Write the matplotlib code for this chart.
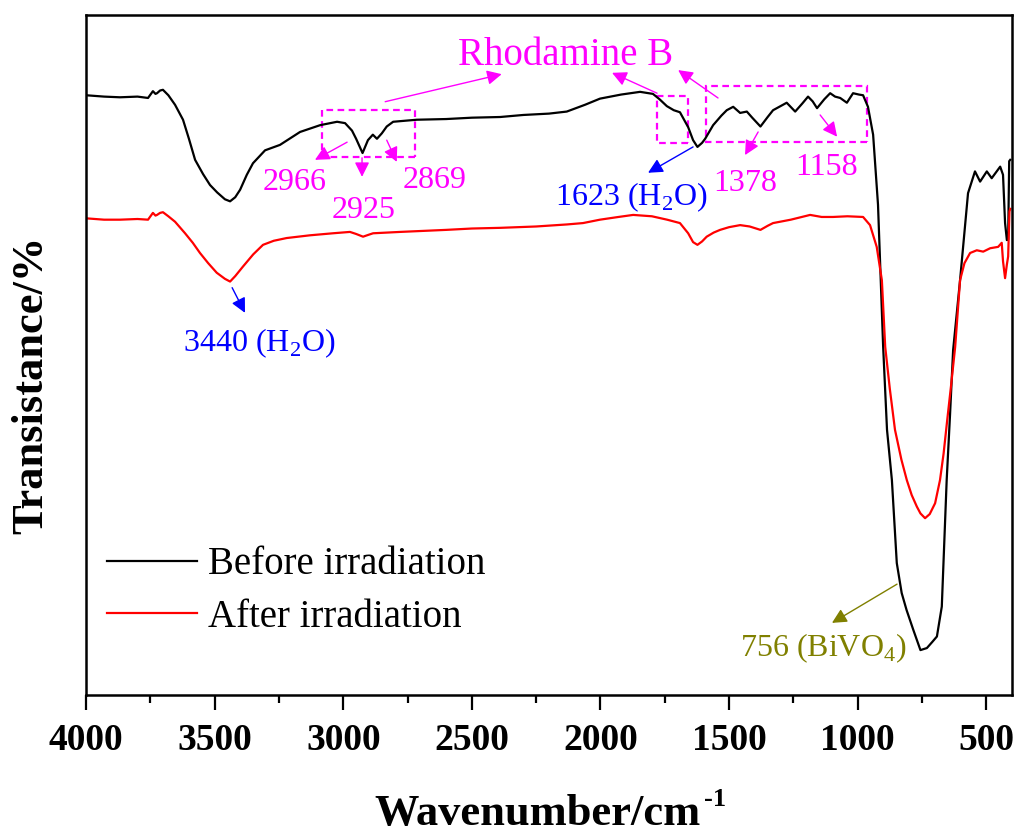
import matplotlib
matplotlib.use('Agg')
import matplotlib.pyplot as plt
from matplotlib.patches import Rectangle

plt.rcParams['font.family'] = ['Liberation Serif', 'DejaVu Serif']
plt.rcParams['mathtext.fontset'] = 'custom'
plt.rcParams['mathtext.rm'] = 'Liberation Serif'
plt.rcParams['mathtext.bf'] = 'Liberation Serif:bold'

# FTIR spectra (wavenumber in cm^-1, transmittance in arbitrary %)
before_wn = [4000, 3930, 3868, 3800, 3759, 3740, 3730, 3724, 3712, 3701, 3680, 3654,
             3623, 3600, 3576, 3545, 3518, 3490, 3460, 3440, 3420, 3401, 3375, 3351,
             3304, 3246, 3168, 3090, 3024, 2993, 2966, 2950, 2925, 2904, 2885, 2869,
             2850, 2831, 2806, 2714, 2600, 2500, 2390, 2300, 2200, 2131, 2060, 2002,
             1920, 1846, 1796, 1770, 1742, 1715, 1691, 1659, 1640, 1623, 1605, 1593,
             1562, 1530, 1509, 1484, 1457, 1431, 1410, 1378, 1350, 1329, 1300, 1276,
             1243, 1215, 1193, 1175, 1158, 1130, 1107, 1088, 1068, 1042, 1018, 995,
             979, 960, 940, 921, 901, 886, 867, 848, 829, 810, 784, 756, 731, 710,
             692, 673, 654, 641, 629, 602, 571, 544, 524, 498, 479, 446, 435, 427,
             420, 415, 411, 407]
before_t = [88.2, 88.0, 87.9, 88.0, 87.8, 88.8, 88.4, 88.5, 88.9, 89.0, 88.2, 86.8,
            84.6, 81.8, 78.7, 76.6, 75.0, 73.9, 72.9, 72.6, 73.2, 74.3, 76.5, 78.2,
            80.1, 80.9, 82.8, 83.8, 84.3, 84.1, 83.0, 81.8, 79.7, 81.6, 82.4, 81.8,
            82.6, 83.6, 84.3, 84.6, 84.7, 84.9, 85.0, 85.3, 85.5, 85.8, 86.8, 87.7,
            88.3, 88.7, 88.4, 87.6, 86.6, 86.0, 85.7, 83.5, 81.6, 80.6, 81.2, 81.8,
            83.8, 85.2, 86.0, 86.5, 85.6, 85.8, 84.9, 83.6, 85.0, 86.0, 86.6, 87.1,
            85.8, 87.0, 88.0, 87.3, 86.3, 87.6, 88.5, 88.0, 87.8, 87.1, 88.5, 88.3,
            88.2, 86.5, 82.4, 72.1, 51.2, 39.0, 31.6, 19.4, 15.0, 12.5, 9.6, 6.6, 6.9, 7.8,
            8.6, 13.0, 31.6, 41.2, 50.7, 61.0, 73.8, 77.0, 75.5, 77.0, 76.0, 77.7, 76.5, 69.4,
            66.9, 67.0, 78.5, 78.7]

after_wn = [4000, 3930, 3868, 3800, 3759, 3740, 3730, 3724, 3712, 3701, 3680, 3654,
            3615, 3585, 3557, 3525, 3492, 3460, 3440, 3420, 3390, 3350, 3312, 3270,
            3220, 3130, 3040, 2974, 2950, 2923, 2900, 2884, 2779, 2600, 2500, 2390,
            2250, 2130, 2068, 2002, 1930, 1873, 1800, 1741, 1691, 1659, 1640, 1623,
            1605, 1587, 1560, 1535, 1500, 1457, 1420, 1378, 1350, 1329, 1260, 1185,
            1140, 1096, 1040, 979, 952, 926, 906, 893, 875, 855, 830, 809, 790, 770,
            756, 738, 720, 699, 680, 666, 652, 637, 621, 602, 585, 563, 537, 512,
            485, 454, 440, 435, 427, 420, 415, 410, 407]
after_t = [70.1, 69.9, 69.9, 70.0, 69.9, 70.9, 70.5, 70.6, 70.9, 71.0, 70.4, 69.6,
           67.9, 66.5, 65.0, 63.5, 62.1, 61.2, 60.8, 61.6, 63.0, 64.8, 66.2, 66.8,
           67.2, 67.6, 67.9, 68.1, 67.8, 67.4, 67.7, 67.9, 68.1, 68.4, 68.6, 68.7,
           68.9, 69.2, 69.4, 69.9, 70.3, 70.6, 70.4, 69.9, 69.4, 67.9, 66.6, 66.2,
           66.7, 67.4, 68.0, 68.4, 68.8, 69.1, 68.9, 68.4, 69.0, 69.4, 69.9, 70.6,
           70.3, 70.3, 70.4, 70.3, 69.1, 65.9, 61.0, 51.2, 45.0, 39.0, 34.6, 31.6, 29.4, 27.7,
           26.7, 26.0, 26.6, 28.2, 31.6, 35.5, 40.4, 45.5, 51.2, 61.0, 63.5, 65.0, 65.4, 65.2,
           65.7, 65.9, 66.5, 63.8, 61.3, 63.3, 64.5, 71.1, 71.5]

series_labels = ['Before irradiation', 'After irradiation']
series_colors = ['black', 'red']
xticks = [4000, 3500, 3000, 2500, 2000, 1500, 1000, 500]

MAGENTA = '#FF00FF'
BLUE = '#0000FF'
OLIVE = '#808000'

fig = plt.figure(figsize=(10.17, 8.34), dpi=100)
ax = fig.add_axes([0.0846, 0.1667, 0.9105, 0.8153])

ax.plot(before_wn, before_t, color=series_colors[0], lw=1.6, label=series_labels[0])
ax.plot(after_wn, after_t, color=series_colors[1], lw=1.6, label=series_labels[1])

ax.set_xlim(4000, 400)
ax.set_ylim(0, 100)
ax.set_xticks(xticks)
ax.set_xticks(range(3750, 400, -500), minor=True)
ax.set_yticks([])
ax.tick_params(axis='x', which='major', direction='out', length=11, width=1.6,
               pad=9, labelsize=27)
ax.tick_params(axis='x', which='minor', direction='out', length=6, width=1.6)
for lab in ax.get_xticklabels():
    lab.set_fontweight('bold')
for sp in ax.spines.values():
    sp.set_linewidth(1.8)

# axis titles; the cm^-1 exponent is a separate small bold text
ax.set_xlabel('Wavenumber/cm', fontsize=32, fontweight='bold')
ax.xaxis.set_label_coords(0.488, -0.145)
ax.text(0.667, -0.163, '-1', transform=ax.transAxes, fontsize=19,
        fontweight='bold', ha='left', va='baseline')
ax.set_ylabel('Transistance/%', fontsize=32, fontweight='bold')
ax.yaxis.set_label_coords(-0.037, 0.456)

ax.legend(loc='center left', bbox_to_anchor=(0.0227, 0.153), frameon=False,
          fontsize=28, handlelength=2.3, handletextpad=0.3, labelspacing=0.4,
          borderpad=0, borderaxespad=0)

# dashed boxes around the Rhodamine B bands
dash = dict(fill=False, edgecolor=MAGENTA, lw=1.6, linestyle=(0, (3, 2)))
ax.add_patch(Rectangle((2721, 79.1), 363, 6.9, **dash))
ax.add_patch(Rectangle((1659, 81.2), 121, 6.9, **dash))
ax.add_patch(Rectangle((964, 81.3), 625, 8.2, **dash))

def arrow(tail, head, color):
    ax.annotate('', xy=head, xytext=tail,
                arrowprops=dict(arrowstyle='-|>', color=color, lw=1.0,
                                mutation_scale=22, shrinkA=0, shrinkB=0))

ax.text(2554, 92.6, 'Rhodamine B', color=MAGENTA, fontsize=28, ha='left', va='baseline')
arrow((2837, 87.25), (2384, 91.3), MAGENTA)
arrow((1780, 88.5), (1955, 91.5), MAGENTA)
arrow((1543, 87.8), (1698, 91.9), MAGENTA)

arrow((2985, 81.3), (3110, 78.7), MAGENTA)
arrow((2927, 79.0), (2927, 76.2), MAGENTA)
arrow((2831, 81.6), (2792, 78.4), MAGENTA)
arrow((1387, 82.8), (1438, 79.4), MAGENTA)
arrow((1146, 85.3), (1080, 82.1), MAGENTA)
arrow((1640, 80.6), (1815, 76.8), BLUE)
arrow((3432, 59.9), (3382, 56.2), BLUE)
arrow((847, 16.3), (1100, 10.6), OLIVE)

num_fs = 23
ax.text(3312, 74.3, '2966', color=MAGENTA, fontsize=num_fs, va='baseline')
ax.text(3044, 70.1, '2925', color=MAGENTA, fontsize=num_fs, va='baseline')
ax.text(2768, 74.6, '2869', color=MAGENTA, fontsize=num_fs, va='baseline')
ax.text(1562, 74.1, '1378', color=MAGENTA, fontsize=num_fs, va='baseline')
ax.text(1243, 76.5, '1158', color=MAGENTA, fontsize=num_fs, va='baseline')
ax.text(2177, 72.1, r'1623 (H$_\mathregular{2}$O)', color=BLUE, fontsize=num_fs, va='baseline')
ax.text(3623, 50.6, r'3440 (H$_\mathregular{2}$O)', color=BLUE, fontsize=num_fs, va='baseline')
ax.text(1457, 5.7, r'756 (BiVO$_\mathregular{4}$)', color=OLIVE, fontsize=num_fs, va='baseline')

fig.savefig('out.png', dpi=100)
